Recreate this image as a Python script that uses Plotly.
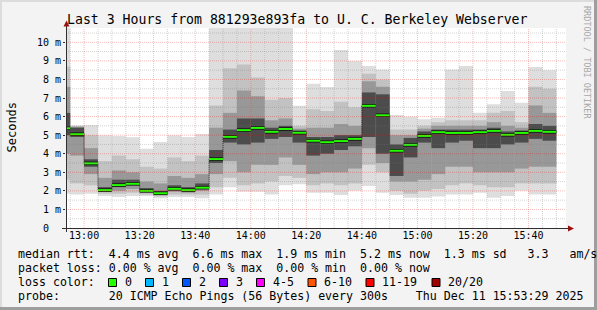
import pandas as pd
import plotly.graph_objects as go

# ---------------- data ----------------
bar_start = ["12:50", "12:55", "13:00", "13:05", "13:10", "13:15", "13:20", "13:25", "13:30",
             "13:35", "13:40", "13:45", "13:50", "13:55", "14:00", "14:05", "14:10", "14:15",
             "14:20", "14:25", "14:30", "14:35", "14:40", "14:45", "14:50", "14:55", "15:00",
             "15:05", "15:10", "15:15", "15:20", "15:25", "15:30", "15:35", "15:40", "15:45"]

rtt_median = [5.37, 5.05, 3.48, 2.04, 2.31, 2.38, 2.00, 1.87, 2.11, 2.04, 2.17, 3.71,
              4.91, 5.27, 5.39, 5.18, 5.33, 5.13, 4.70, 4.62, 4.68, 4.80, 6.58, 6.07,
              4.16, 4.48, 4.96, 5.16, 5.12, 5.12, 5.16, 5.23, 5.02, 5.12, 5.23, 5.18]
rtt_min = [1.85, 1.81, 1.85, 1.72, 1.67, 1.72, 1.72, 1.60, 1.67, 1.67, 1.60, 1.81,
           2.20, 1.95, 1.95, 1.81, 2.30, 2.35, 1.90, 1.90, 1.78, 2.00, 2.26, 1.90,
           1.78, 1.63, 1.63, 1.70, 1.81, 1.81, 1.90, 1.63, 1.72, 2.00, 1.81, 1.81]
rtt_p10 = [2.6, 2.4, 2.3, 1.85, 1.85, 1.9, 1.8, 1.7, 1.8, 1.8, 1.8, 2.2,
           2.7, 2.3, 2.4, 2.5, 2.8, 2.7, 2.3, 2.4, 2.3, 2.4, 3.4, 3.0,
           2.0, 1.85, 2.0, 2.1, 2.3, 2.4, 2.3, 2.2, 2.2, 2.4, 2.4, 2.4]
rtt_p25 = [4.0, 3.9, 2.9, 1.95, 2.0, 2.1, 1.9, 1.76, 1.95, 1.9, 2.0, 2.9,
           3.6, 3.0, 3.4, 3.4, 3.8, 3.4, 2.9, 3.0, 3.0, 3.2, 4.3, 3.5,
           2.5, 2.5, 2.6, 2.9, 3.3, 3.3, 3.0, 3.0, 3.0, 3.2, 3.3, 3.3]
rtt_p40 = [5.0, 4.9, 3.3, 2.0, 2.2, 2.3, 1.96, 1.82, 2.05, 2.0, 2.1, 3.5,
           4.6, 4.5, 4.6, 4.8, 4.9, 4.6, 3.9, 4.0, 4.2, 4.4, 4.9, 4.0,
           2.8, 3.8, 4.6, 4.3, 4.6, 4.7, 4.3, 4.3, 4.5, 4.6, 4.8, 4.7]
rtt_p60 = [6.2, 5.4, 3.7, 2.2, 2.6, 2.6, 2.15, 2.0, 2.3, 2.2, 2.4, 4.2,
           5.3, 5.9, 5.9, 5.4, 5.5, 5.25, 4.9, 4.9, 5.0, 5.0, 7.3, 7.2,
           4.5, 4.85, 5.2, 5.3, 5.3, 5.3, 5.3, 5.4, 5.2, 5.25, 5.6, 5.5]
rtt_p75 = [7.6, 5.45, 4.3, 2.7, 3.1, 3.0, 2.5, 2.4, 2.8, 2.7, 2.9, 5.4,
           6.2, 7.4, 7.1, 5.8, 5.9, 5.35, 5.4, 5.4, 5.6, 5.5, 7.9, 7.6,
           5.0, 5.0, 5.35, 5.5, 5.5, 5.5, 5.5, 5.7, 5.5, 5.4, 6.6, 6.2]
rtt_p90 = [8.7, 5.5, 5.0, 3.6, 3.9, 3.7, 3.3, 3.2, 3.8, 3.6, 3.9, 6.6,
           8.6, 8.8, 8.1, 6.9, 7.0, 5.5, 6.4, 6.3, 6.8, 6.5, 8.3, 8.0,
           5.3, 5.3, 5.5, 5.7, 5.8, 5.8, 5.8, 6.2, 6.3, 5.7, 7.6, 7.5]
rtt_max = [10.8, 5.52, 5.54, 4.99, 4.95, 4.89, 4.27, 4.63, 4.99, 4.90, 5.06, 10.8,
           10.8, 10.8, 10.8, 10.8, 10.8, 6.58, 7.77, 7.59, 9.58, 8.99, 8.72, 8.54,
           6.08, 5.99, 5.85, 5.94, 8.54, 8.72, 6.21, 6.66, 7.38, 6.75, 8.67, 8.49]

y_ticks = [0, 1, 2, 3, 4, 5, 6, 7, 8, 9, 10]
y_tick_text = ["0\u00a0\u00a0", "1 m", "2 m", "3 m", "4 m", "5 m", "6 m", "7 m", "8 m", "9 m", "10 m"]
x_ticks = ["13:00", "13:20", "13:40", "14:00", "14:20", "14:40", "15:00", "15:20", "15:40"]

loss_labels = ["0", "1", "2", "3", "4-5", "6-10", "11-19", "20/20"]
loss_colors = ["#26ff00", "#00b8ff", "#0059ff", "#7e00ff", "#ff00ff", "#ff5500", "#ff0000", "#a10000"]

title = "Last 3 Hours from 881293e893fa to U. C. Berkeley Webserver"
legend_lines = [
    "median rtt:  4.4 ms avg  6.6 ms max  1.9 ms min  5.2 ms now  1.3 ms sd   3.3   am/s",
    "packet loss: 0.00 % avg  0.00 % max  0.00 % min  0.00 % now",
    "loss color:",
    "probe:       20 ICMP Echo Pings (56 Bytes) every 300s    Thu Dec 11 15:53:29 2025",
]

# ---------------- geometry helpers ----------------
DAY = "2025-12-11 "
t_start = pd.to_datetime([DAY + t for t in bar_start])
step = pd.Timedelta(minutes=5)
t_center = t_start + step / 2
t_end = t_start + step
x_range = [pd.Timestamp(DAY + "12:53:29"), pd.Timestamp(DAY + "15:53:29")]

L, T, W, H = 66, 28, 500, 200
FW, FH = 597, 310


def px(X):
    return (X - L) / W


def py(Y):
    return (T + H - Y) / H


MONO = "DejaVu Sans Mono"
fig = go.Figure()

# smoke layers (outer -> inner)
layers = [(rtt_min, rtt_max, "#dedede"), (rtt_p10, rtt_p90, "#c2c2c2"),
          (rtt_p25, rtt_p75, "#989898"), (rtt_p40, rtt_p60, "#4c4c4c")]
for lo, hi, col in layers:
    fig.add_trace(go.Bar(x=t_center, y=[h - l for l, h in zip(lo, hi)], base=lo,
                         width=300000, marker=dict(color=col, line=dict(width=0)),
                         hoverinfo="skip", showlegend=False))

# median step connector
sx = list(t_start) + [t_end[-1]]
sy = rtt_median + [rtt_median[-1]]
fig.add_trace(go.Scatter(x=sx, y=sy, mode="lines", line=dict(shape="hv", color="#202020", width=1, dash="1px,1px"),
                         hoverinfo="skip", showlegend=False))
segx, segy = [], []
for s, e, m in zip(t_start, t_end, rtt_median):
    segx += [s, e, None]
    segy += [m, m, None]
fig.add_trace(go.Scatter(x=segx, y=segy, mode="lines", line=dict(color="#101010", width=3.5),
                         hoverinfo="skip", showlegend=False))
fig.add_trace(go.Scatter(x=segx, y=segy, mode="lines", line=dict(color=loss_colors[0], width=2),
                         hoverinfo="skip", showlegend=False))

shapes = []
# grid (drawn above the smoke like rrdtool)
minor_c = "rgba(120,120,120,0.32)"
major_c = "rgba(230,0,0,0.27)"
t = pd.Timestamp(DAY + "12:55")
while t < x_range[1]:
    major = t.strftime("%H:%M") in x_ticks
    shapes.append(dict(type="line", xref="x", yref="paper", x0=t, x1=t, y0=0, y1=1, layer="above",
                       line=dict(color=major_c if major else minor_c, width=1, dash="1px,1px")))
    t += step
for k in range(1, 22):
    v = k * 0.5
    shapes.append(dict(type="line", xref="paper", yref="y", x0=0, x1=1, y0=v, y1=v, layer="above",
                       line=dict(color=major_c if k % 2 == 0 else minor_c, width=1, dash="1px,1px")))

# axes lines + arrows
axc = "#303030"
arc = "#9a1010"
shapes.append(dict(type="line", xref="paper", yref="paper", x0=px(66.5), x1=px(66.5), y0=py(232), y1=py(25),
                   line=dict(color=axc, width=1), layer="above"))
shapes.append(dict(type="line", xref="paper", yref="paper", x0=px(62), x1=px(569), y0=py(228.5), y1=py(228.5),
                   line=dict(color=axc, width=1), layer="above"))
shapes.append(dict(type="path", xref="paper", yref="paper", layer="above",
                   path=f"M {px(63.5)} {py(26.5)} L {px(69.5)} {py(26.5)} L {px(66.5)} {py(20.5)} Z",
                   fillcolor=arc, line=dict(width=0)))
shapes.append(dict(type="path", xref="paper", yref="paper", layer="above",
                   path=f"M {px(568)} {py(225.5)} L {px(568)} {py(231.5)} L {px(574)} {py(228.5)} Z",
                   fillcolor=arc, line=dict(width=0)))

# frame shading
shapes.append(dict(type="rect", xref="paper", yref="paper", x0=px(0), x1=px(FW), y0=py(FH), y1=py(FH - 3),
                   fillcolor="#9e9e9e", line=dict(width=0), layer="above"))
shapes.append(dict(type="rect", xref="paper", yref="paper", x0=px(FW - 3), x1=px(FW), y0=py(FH), y1=py(0),
                   fillcolor="#9e9e9e", line=dict(width=0), layer="above"))
shapes.append(dict(type="rect", xref="paper", yref="paper", x0=px(0), x1=px(FW - 3), y0=py(2), y1=py(0),
                   fillcolor="#dcdcdc", line=dict(width=0), layer="above"))
shapes.append(dict(type="rect", xref="paper", yref="paper", x0=px(0), x1=px(2), y0=py(FH - 3), y1=py(0),
                   fillcolor="#dcdcdc", line=dict(width=0), layer="above"))

# loss colour swatches
sw_x = [108.5, 145.5, 182.5, 219.5, 256.5, 308, 366, 432]
lab_x = [123, 160, 197, 234, 271, 322, 380, 446]
for xs, c in zip(sw_x, loss_colors):
    shapes.append(dict(type="rect", xref="paper", yref="paper", x0=px(xs), x1=px(xs + 8), y0=py(286.5), y1=py(278.5),
                       fillcolor=c, line=dict(color="#000000", width=1)))

annotations = []


def nb(s):
    return s.replace(" ", "\u00a0")


annotations.append(dict(text=nb(title), xref="paper", yref="paper", x=px(297), y=py(19.5), xanchor="center",
                        yanchor="middle", showarrow=False, font=dict(family=MONO, size=13.2, color="#000")))
annotations.append(dict(text="Seconds", xref="paper", yref="paper", x=px(11.5), y=py(127), xanchor="center",
                        yanchor="middle", textangle=-90, showarrow=False, font=dict(family=MONO, size=12, color="#000")))
annotations.append(dict(text=nb("RRDTOOL / TOBI OETIKER"), xref="paper", yref="paper", x=px(587), y=py(62),
                        xanchor="center", yanchor="middle", textangle=90, showarrow=False,
                        font=dict(family=MONO, size=8.5, color="#a8a8a8")))
line_y = [254, 268, 282, 296]
for txt, yy in zip(legend_lines, line_y):
    annotations.append(dict(text=nb(txt), xref="paper", yref="paper", x=px(16), y=py(yy), xanchor="left",
                            yanchor="middle", showarrow=False, font=dict(family=MONO, size=11.6, color="#000")))
for lx, lt in zip(lab_x, loss_labels):
    annotations.append(dict(text=lt, xref="paper", yref="paper", x=px(lx), y=py(282), xanchor="left",
                            yanchor="middle", showarrow=False, font=dict(family=MONO, size=11.6, color="#000")))

fig.update_layout(
    width=FW, height=FH, margin=dict(l=L, r=FW - L - W, t=T, b=FH - T - H, autoexpand=False),
    paper_bgcolor="#f3f3f3", plot_bgcolor="#ffffff", barmode="overlay", showlegend=False,
    shapes=shapes, annotations=annotations,
    xaxis=dict(type="date", range=x_range, tickvals=[pd.Timestamp(DAY + s) for s in x_ticks], ticktext=x_ticks,
               showgrid=False, zeroline=False, showline=False, ticks="", automargin=False,
               tickfont=dict(family=MONO, size=10, color="#000")),
    yaxis=dict(range=[0, 10.77], tickvals=y_ticks, ticktext=y_tick_text, showgrid=False, zeroline=False,
               showline=False, ticks="outside", ticklen=2, tickcolor=axc, automargin=False,
               tickfont=dict(family=MONO, size=10, color="#000")),
)

fig.write_html("out.html")
